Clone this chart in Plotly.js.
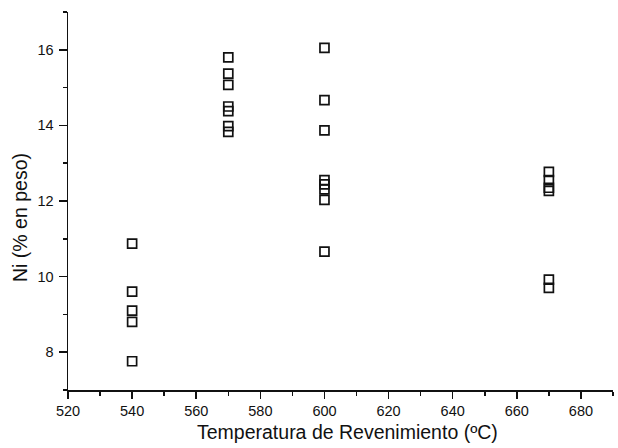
<!DOCTYPE html>
<html>
<head>
<meta charset="utf-8">
<script src="https://cdn.plot.ly/plotly-3.0.1.min.js"></script>
<style>html,body{margin:0;padding:0;background:#fff;}#chart{width:618px;height:448px;}</style>
</head>
<body>
<div id="chart"></div>
<script>
const temperature = [540,540,540,540,540, 570,570,570,570,570,570,570, 600,600,600,600,600,600,600,600, 670,670,670,670,670,670];
const nickel = [10.87,9.6,9.1,8.8,7.76, 15.8,15.37,15.07,14.5,14.38,13.98,13.83, 16.05,14.67,13.87,12.55,12.44,12.31,12.03,10.66, 12.77,12.55,12.35,12.27,9.92,9.7];
const xTickVals = [520,540,560,580,600,620,640,660,680];
const yTickVals = [8,10,12,14,16];
const xTitle = 'Temperatura de Revenimiento (ºC)';
const yTitle = 'Ni (% en peso)';

const trace = {
  x: temperature, y: nickel, type: 'scatter', mode: 'markers',
  marker: {symbol: 'square-open', size: 9, color: '#111', line: {width: 1.7, color: '#111'}},
  hoverinfo: 'skip'
};
const tickFont = {family: '"Liberation Sans Narrow", "Liberation Sans", Arial, sans-serif', size: 14.5, color: '#111'};
const titleFont = {family: '"Liberation Sans", Arial, sans-serif', size: 19.5, color: '#111'};
const layout = {
  width: 618, height: 448,
  margin: {l: 68, r: 5, t: 12, b: 58},
  paper_bgcolor: '#fff', plot_bgcolor: '#fff',
  showlegend: false,
  xaxis: {
    range: [520, 690], showgrid: false, zeroline: false,
    showline: true, linecolor: '#111', linewidth: 1.5,
    tickmode: 'array', tickvals: xTickVals, ticktext: xTickVals.map(String),
    ticks: 'outside', ticklen: 7, tickwidth: 1.5, tickcolor: '#111',
    minor: {dtick: 10, tick0: 520, ticks: 'outside', ticklen: 4, tickwidth: 1.5, tickcolor: '#111', showgrid: false},
    tickfont: tickFont
  },
  yaxis: {
    range: [7, 17], showgrid: false, zeroline: false,
    showline: true, linecolor: '#111', linewidth: 1.5,
    tickmode: 'array', tickvals: yTickVals, ticktext: yTickVals.map(String),
    ticks: 'outside', ticklen: 8, tickwidth: 1.5, tickcolor: '#111', ticklabelstandoff: 2,
    minor: {dtick: 1, tick0: 7, ticks: 'outside', ticklen: 4, tickwidth: 1.5, tickcolor: '#111', showgrid: false},
    tickfont: tickFont
  },
  annotations: [
    {text: xTitle, xref: 'paper', yref: 'paper', x: (347 - 68) / 545, y: -(432 - 390) / 378,
     xanchor: 'center', yanchor: 'middle', showarrow: false, font: titleFont},
    {text: yTitle, xref: 'paper', yref: 'paper', x: (20 - 68) / 545, y: (390 - 218) / 378,
     xanchor: 'center', yanchor: 'middle', textangle: -90, showarrow: false, font: titleFont}
  ]
};
Plotly.newPlot('chart', [trace], layout, {staticPlot: true, displayModeBar: false});
</script>
</body>
</html>
